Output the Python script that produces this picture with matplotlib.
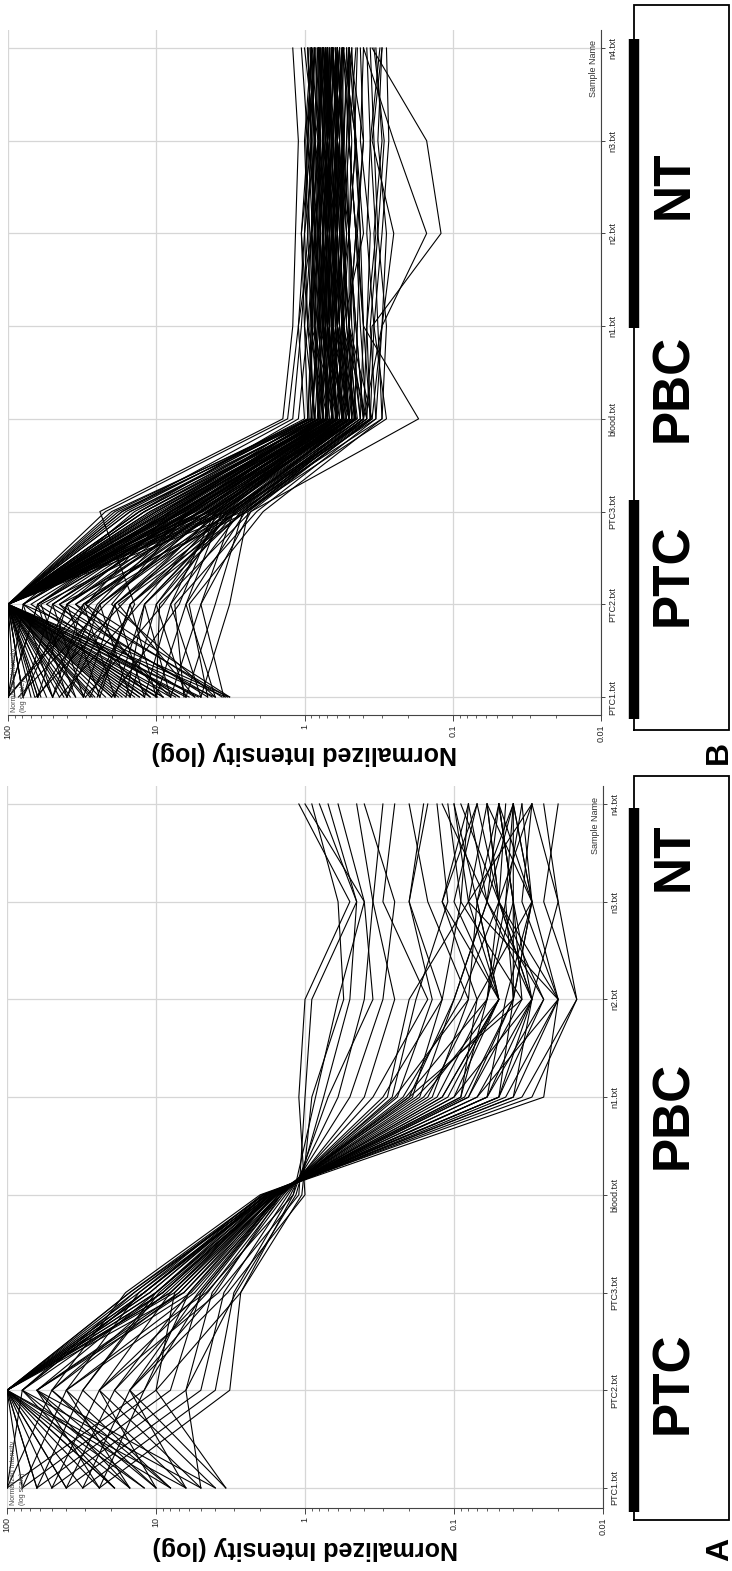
import numpy as np
import matplotlib
matplotlib.use('Agg')
import matplotlib.pyplot as plt
from matplotlib.ticker import LogLocator, NullFormatter

plt.rcParams['font.family'] = ['Liberation Sans', 'DejaVu Sans']

W, H = 732, 1571

samples = ['PTC1.txt', 'PTC2.txt', 'PTC3.txt', 'blood.txt', 'n1.txt', 'n2.txt', 'n3.txt', 'n4.txt']
group_names = ['PTC', 'PBC', 'NT']
intensity_ticks = [100, 10, 1, 0.1, 0.01]
intensity_labels = ['100', '10', '1', '0.1', '0.01']

# normalized intensity of each gene, one row per gene, columns follow `samples`
profiles_a = [
    [100, 100, 12, 1.9, 0.04, 0.02, 0.05, 0.03],
    [79, 100, 14, 1.8, 0.06, 0.03, 0.04, 0.05],
    [63, 100, 11, 1.85, 0.05, 0.025, 0.06, 0.04],
    [50, 100, 9, 1.7, 0.08, 0.04, 0.03, 0.06],
    [40, 100, 15, 1.75, 0.07, 0.02, 0.08, 0.03],
    [31, 100, 10, 1.6, 0.12, 0.05, 0.1, 0.07],
    [24, 100, 8, 1.65, 0.1, 0.03, 0.05, 0.09],
    [19, 79, 12, 1.7, 0.09, 0.06, 0.04, 0.05],
    [15, 63, 6.5, 1.6, 0.15, 0.07, 0.12, 0.08],
    [10, 50, 7, 1.55, 0.2, 0.1, 0.06, 0.12],
    [8, 40, 5.5, 1.5, 0.25, 0.08, 0.15, 0.2],
    [6.3, 31, 9.5, 1.6, 0.18, 0.04, 0.03, 0.04],
    [5, 24, 5, 1.45, 0.3, 0.12, 0.2, 0.15],
    [4, 19, 4.5, 1.4, 0.35, 0.15, 0.3, 0.25],
    [3.4, 15, 4, 1.45, 0.28, 0.2, 0.08, 0.1],
    [100, 12, 6, 1.5, 0.22, 0.09, 0.05, 0.06],
    [79, 10, 7.5, 1.55, 0.16, 0.05, 0.07, 0.04],
    [63, 8, 5, 1.5, 0.2, 0.035, 0.04, 0.05],
    [50, 6.3, 4.2, 1.35, 0.4, 0.25, 0.35, 0.3],
    [40, 5, 3.5, 1.3, 0.5, 0.3, 0.25, 0.4],
    [31, 4, 3, 1.25, 0.6, 0.4, 0.35, 0.45],
    [24, 3.2, 2.7, 1.2, 0.7, 0.35, 0.4, 0.6],
    [19, 100, 13, 1.7, 0.06, 0.045, 0.03, 0.05],
    [15, 100, 11, 1.8, 0.045, 0.02, 0.03, 0.035],
    [12, 79, 14, 1.9, 0.035, 0.015, 0.025, 0.02],
    [10, 63, 10, 1.75, 0.07, 0.03, 0.02, 0.03],
    [8, 50, 8.5, 1.65, 0.11, 0.05, 0.08, 0.06],
    [6.3, 100, 12, 1.8, 0.05, 0.03, 0.05, 0.045],
    [5, 79, 9, 1.7, 0.085, 0.04, 0.045, 0.04],
    [4, 63, 7, 1.6, 0.13, 0.06, 0.05, 0.07],
    [100, 50, 16, 2.0, 0.03, 0.015, 0.02, 0.025],
    [79, 40, 13, 1.95, 0.025, 0.02, 0.035, 0.03],
    [63, 31, 10, 1.85, 0.04, 0.03, 0.06, 0.05],
    [50, 24, 8, 1.7, 0.09, 0.07, 0.03, 0.04],
    [40, 19, 6, 1.6, 0.14, 0.08, 0.07, 0.1],
    [31, 15, 5.2, 1.5, 0.19, 0.12, 0.09, 0.08],
    [24, 12, 4.8, 1.45, 0.26, 0.18, 0.11, 0.13],
    [19, 100, 9, 1.6, 0.12, 0.05, 0.07, 0.05],
    [100, 100, 15, 1.9, 0.05, 0.04, 0.04, 0.04],
    [100, 79, 12, 1.8, 0.06, 0.025, 0.05, 0.06],
    [63, 100, 8, 1.55, 0.17, 0.1, 0.06, 0.08],
    [40, 100, 6.5, 1.5, 0.21, 0.06, 0.045, 0.035],
    [24, 63, 5.8, 1.45, 0.24, 0.14, 0.2, 0.16],
    [15, 40, 4.6, 1.2, 0.85, 0.6, 0.4, 1.0],
    [10, 24, 3.8, 1.1, 1.0, 0.9, 0.45, 0.8],
    [6.3, 15, 3.3, 1.0, 1.1, 1.0, 0.5, 1.1],
    [3.4, 10, 2.7, 1.05, 0.9, 0.55, 0.6, 0.9],
    [5, 6.3, 2.9, 1.15, 0.75, 0.5, 0.45, 0.7],
    [8, 100, 10, 1.7, 0.08, 0.035, 0.09, 0.11],
    [12, 100, 7.5, 1.65, 0.1, 0.05, 0.12, 0.07],
]

profiles_b = [
    [100, 100, 20, 0.9, 0.8, 0.75, 0.7, 0.8],
    [79, 100, 15, 0.8, 0.7, 0.8, 0.75, 0.7],
    [63, 100, 12, 0.75, 0.85, 0.7, 0.8, 0.9],
    [50, 100, 10, 0.7, 0.75, 0.65, 0.6, 0.75],
    [40, 100, 8, 0.65, 0.6, 0.7, 0.85, 0.7],
    [31, 100, 7, 0.6, 0.7, 0.9, 0.7, 0.65],
    [24, 100, 6, 0.55, 0.65, 0.6, 0.75, 0.8],
    [19, 100, 5, 0.5, 0.8, 0.75, 0.65, 0.7],
    [15, 100, 4.5, 0.45, 0.55, 0.5, 0.6, 0.55],
    [12, 100, 4, 0.6, 0.9, 0.85, 0.9, 0.95],
    [10, 100, 3.5, 0.55, 0.7, 0.65, 0.7, 0.6],
    [8, 100, 9, 0.7, 0.95, 1.0, 0.85, 0.9],
    [6.3, 100, 11, 0.8, 0.9, 0.8, 0.95, 0.85],
    [5, 100, 13, 0.85, 1.0, 0.9, 0.8, 0.75],
    [4, 100, 7.5, 0.75, 0.8, 0.85, 0.75, 0.8],
    [3.2, 79, 6.5, 0.7, 0.65, 0.75, 0.7, 0.7],
    [100, 63, 5.5, 0.65, 0.75, 0.7, 0.65, 0.75],
    [79, 50, 5, 0.6, 0.7, 0.6, 0.55, 0.65],
    [63, 40, 4.2, 0.55, 0.6, 0.55, 0.65, 0.6],
    [50, 31, 3.8, 0.5, 0.55, 0.65, 0.6, 0.55],
    [40, 24, 3.2, 0.45, 0.5, 0.45, 0.5, 0.5],
    [31, 19, 2.8, 0.4, 0.45, 0.5, 0.55, 0.6],
    [24, 15, 2.5, 0.38, 0.55, 0.4, 0.45, 0.55],
    [19, 12, 3, 0.5, 0.6, 0.7, 0.6, 0.65],
    [15, 10, 3.4, 0.55, 0.7, 0.6, 0.7, 0.7],
    [12, 8, 4, 0.65, 0.8, 0.75, 0.8, 0.75],
    [10, 6.3, 3.6, 0.6, 0.75, 0.8, 0.7, 0.8],
    [8, 5, 3, 0.5, 0.65, 0.55, 0.6, 0.65],
    [6.3, 4, 2.6, 0.45, 0.6, 0.65, 0.55, 0.6],
    [5, 3.2, 2.4, 0.4, 0.5, 0.55, 0.5, 0.55],
    [4, 20, 6, 0.7, 0.85, 0.8, 0.85, 0.9],
    [3.2, 30, 8, 0.75, 0.9, 0.95, 0.9, 0.85],
    [100, 100, 18, 0.85, 0.95, 0.85, 0.9, 0.95],
    [100, 100, 16, 1.0, 1.1, 0.9, 0.85, 1.0],
    [100, 79, 14, 0.95, 1.0, 1.05, 0.95, 0.9],
    [79, 100, 10, 0.8, 0.85, 0.9, 0.8, 0.85],
    [63, 100, 9, 0.75, 0.8, 0.75, 0.85, 0.8],
    [50, 79, 8.5, 0.7, 0.75, 0.7, 0.75, 0.75],
    [40, 63, 7, 0.65, 0.7, 0.75, 0.7, 0.65],
    [31, 50, 6, 0.6, 0.65, 0.7, 0.65, 0.7],
    [24, 40, 5.2, 0.55, 0.6, 0.65, 0.7, 0.65],
    [19, 31, 4.6, 0.5, 0.55, 0.6, 0.6, 0.6],
    [15, 24, 4.1, 0.48, 0.5, 0.55, 0.55, 0.5],
    [12, 19, 3.7, 0.45, 0.6, 0.5, 0.45, 0.55],
    [10, 15, 3.3, 0.42, 0.5, 0.45, 0.5, 0.45],
    [8, 12, 3.1, 0.4, 0.45, 0.5, 0.45, 0.5],
    [6.3, 10, 2.9, 0.38, 0.42, 0.45, 0.5, 0.5],
    [5, 8, 2.7, 0.36, 0.4, 0.42, 0.45, 0.48],
    [4, 6.3, 2.5, 0.35, 0.5, 0.5, 0.55, 0.55],
    [3.5, 5, 2.3, 0.17, 0.4, 0.45, 0.4, 0.5],
    [70, 100, 12, 0.78, 0.72, 0.68, 0.72, 0.78],
    [55, 100, 11, 0.72, 0.68, 0.72, 0.68, 0.72],
    [45, 100, 9.5, 0.68, 0.74, 0.78, 0.74, 0.7],
    [35, 100, 8, 0.62, 0.66, 0.62, 0.66, 0.68],
    [28, 100, 7.2, 0.58, 0.62, 0.66, 0.62, 0.64],
    [22, 100, 6.4, 0.56, 0.64, 0.6, 0.64, 0.6],
    [17, 100, 5.8, 0.52, 0.58, 0.62, 0.58, 0.62],
    [13, 100, 5.4, 0.5, 0.62, 0.58, 0.62, 0.58],
    [11, 100, 4.8, 0.48, 0.56, 0.52, 0.6, 0.56],
    [9, 100, 4.4, 0.46, 0.52, 0.56, 0.54, 0.52],
    [7, 70, 6.8, 0.6, 0.68, 0.64, 0.7, 0.66],
    [5.5, 55, 6.2, 0.58, 0.74, 0.7, 0.66, 0.72],
    [4.5, 45, 5.6, 0.54, 0.66, 0.72, 0.68, 0.66],
    [3.6, 35, 5, 0.52, 0.7, 0.66, 0.72, 0.7],
    [100, 28, 4.6, 0.5, 0.64, 0.68, 0.64, 0.68],
    [85, 22, 4.3, 0.5, 0.58, 0.64, 0.6, 0.64],
    [65, 17, 3.9, 0.46, 0.54, 0.58, 0.56, 0.6],
    [45, 13, 3.6, 0.44, 0.52, 0.54, 0.58, 0.54],
    [30, 9, 3.2, 0.42, 0.48, 0.5, 0.52, 0.5],
    [20, 7, 3.9, 0.5, 0.56, 0.6, 0.58, 0.62],
    [14, 100, 15, 0.9, 0.82, 0.78, 0.82, 0.76],
    [9, 100, 13, 0.85, 0.78, 0.82, 0.78, 0.82],
    [6, 100, 17, 0.92, 0.88, 0.84, 0.88, 0.86],
    [100, 100, 10.5, 0.82, 0.76, 0.72, 0.76, 0.72],
    [90, 100, 9, 0.76, 0.72, 0.76, 0.7, 0.74],
    [60, 100, 7.8, 0.7, 0.78, 0.74, 0.78, 0.76],
    [38, 100, 6.8, 0.64, 0.7, 0.68, 0.74, 0.72],
    [26, 100, 5.6, 0.6, 0.74, 0.7, 0.66, 0.7],
    [16, 100, 2.6, 0.4, 0.3, 0.25, 0.35, 0.3],
    [11, 45, 2.4, 0.35, 0.3, 0.15, 0.25, 0.4],
    [8, 35, 3.0, 0.38, 0.35, 0.12, 0.15, 0.35],
    [100, 100, 19, 0.95, 0.9, 0.88, 0.95, 0.9],
    [100, 100, 22, 1.3, 1.1, 1.0, 0.95, 1.05],
    [79, 100, 17, 1.2, 1.05, 0.95, 1.0, 0.9],
    [50, 100, 13, 1.1, 0.95, 1.05, 0.9, 0.95],
    [30, 100, 9, 0.95, 0.88, 0.92, 0.98, 0.88],
    [20, 100, 7.5, 0.88, 0.82, 0.9, 0.86, 0.92],
    [12, 79, 6.6, 0.8, 0.76, 0.84, 0.8, 0.78],
    [7, 63, 5.8, 0.72, 0.7, 0.66, 0.74, 0.8],
    [4.2, 50, 5.1, 0.66, 0.6, 0.64, 0.6, 0.66],
    [3.3, 40, 4.5, 0.6, 0.56, 0.52, 0.56, 0.6],
    [100, 31, 4, 0.55, 0.5, 0.56, 0.52, 0.48],
    [63, 24, 3.6, 0.5, 0.46, 0.5, 0.48, 0.52],
    [40, 19, 3.2, 0.46, 0.44, 0.42, 0.46, 0.44],
    [25, 15, 2.9, 0.42, 0.4, 0.44, 0.4, 0.42],
    [16, 12, 2.6, 0.4, 0.38, 0.36, 0.42, 0.4],
    [10, 9.5, 2.3, 0.36, 0.34, 0.38, 0.36, 0.38],
    [6.5, 7.5, 2.1, 0.33, 0.36, 0.32, 0.34, 0.36],
    [4.5, 6, 1.9, 0.3, 0.32, 0.34, 0.3, 0.33],
    [3.4, 100, 12, 0.86, 0.92, 0.86, 0.92, 0.86],
    [5.2, 100, 10, 0.8, 0.86, 0.82, 0.86, 0.82],
    [7.4, 100, 8.6, 0.74, 0.8, 0.78, 0.8, 0.8],
    [9.8, 100, 7.4, 0.68, 0.76, 0.74, 0.7, 0.76],
    [13, 100, 6.4, 0.64, 0.72, 0.7, 0.68, 0.74],
    [18, 100, 5.6, 0.6, 0.68, 0.72, 0.7, 0.68],
    [27, 100, 4.9, 0.56, 0.66, 0.62, 0.66, 0.64],
    [42, 100, 4.3, 0.53, 0.6, 0.64, 0.6, 0.62],
    [66, 100, 3.8, 0.5, 0.58, 0.6, 0.62, 0.58],
    [100, 100, 3.3, 0.47, 0.55, 0.57, 0.55, 0.6],
    [100, 63, 8.2, 0.72, 0.64, 0.6, 0.64, 0.6],
    [79, 40, 7, 0.66, 0.6, 0.56, 0.6, 0.56],
    [50, 25, 6, 0.62, 0.54, 0.58, 0.54, 0.58],
    [28, 14, 24, 1.4, 1.2, 1.15, 1.1, 1.2],
    [20, 100, 3.1, 0.33, 0.3, 0.28, 0.32, 0.3],
    [9, 30, 2.8, 0.3, 0.28, 0.32, 0.29, 0.34],
    [5.5, 18, 2.5, 0.28, 0.34, 0.3, 0.27, 0.28],
    [35, 60, 3.4, 0.36, 0.38, 0.33, 0.36, 0.31],
]

# thick bars on the group strip, in sample-index units
bars_a = [(-0.25, 6.96)]
bars_b = [(-0.24, 2.12), (3.98, 7.1)]


def px_rect(left, top, right, bottom):
    return [left / W, 1 - bottom / H, (right - left) / W, (bottom - top) / H]


def draw_panel(fig, rect, profiles, ylim):
    ax = fig.add_axes(rect)
    pos = np.arange(len(samples))
    for row in profiles:
        ax.plot(row, pos, color='black', lw=0.8)

    ax.set_xscale('log')
    ax.set_xlim(100, 0.01)
    ax.set_ylim(*ylim)
    ax.set_xticks(intensity_ticks)
    ax.set_xticklabels(intensity_labels, rotation=90, fontsize=6.5, color='#222222')
    ax.xaxis.set_minor_locator(LogLocator(base=10, subs=np.arange(2, 10)))
    ax.xaxis.set_minor_formatter(NullFormatter())
    ax.tick_params(axis='x', which='major', length=4.5, width=0.7, color='#444444', pad=2)
    ax.tick_params(axis='x', which='minor', length=2.5, width=0.6, color='#444444')

    ax.yaxis.tick_right()
    ax.set_yticks(pos)
    ax.set_yticklabels(samples, rotation=90, va='center', fontsize=6.5, color='#222222')
    ax.tick_params(axis='y', length=3, width=0.7, color='#444444', pad=2)

    ax.grid(True, which='major', color='#d6d6d6', lw=0.9)
    ax.set_axisbelow(True)
    for s in ['top', 'left']:
        ax.spines[s].set_visible(False)
    for s in ['bottom', 'right']:
        ax.spines[s].set_color('#444444')
        ax.spines[s].set_linewidth(0.8)

    ax.text(0.5, -0.056, 'Normalized Intensity (log)', transform=ax.transAxes,
            rotation=180, ha='center', va='center', fontsize=18, fontweight='bold')
    ax.text(0.005, 0.004, 'Normalized Intensity\n(log scale)', transform=ax.transAxes,
            rotation=90, ha='left', va='bottom', fontsize=5, color='#444444', linespacing=1.5)
    ax.text(0.988, 0.985, 'Sample Name', transform=ax.transAxes, rotation=90,
            ha='center', va='top', fontsize=6.5, color='#333333')
    return ax


def draw_strip(ax, box_x, box_y, bars):
    trans = ax.get_yaxis_transform()
    x0, x1 = box_x
    y0, y1 = box_y
    ax.plot([x0, x0, x1, x1, x0], [y0, y1, y1, y0, y0], color='black', lw=1.3,
            transform=trans, clip_on=False, solid_joinstyle='miter')
    for lo, hi in bars:
        ax.plot([x0, x0], [lo, hi], color='black', lw=7.5, transform=trans,
                clip_on=False, solid_capstyle='butt')


fig = plt.figure(figsize=(W / 100, H / 100), dpi=100)

ax_b = draw_panel(fig, px_rect(8, 30, 601, 715), profiles_b, (-0.194, 7.194))
ax_a = draw_panel(fig, px_rect(7, 786, 603, 1508), profiles_a, (-0.205, 7.184))

draw_strip(ax_b, ((634 - 8) / 593, (729 - 8) / 593), (-0.356, 7.464), bars_b)
draw_strip(ax_a, ((634 - 7) / 596, (729 - 7) / 596), (-0.327, 7.287), bars_a)

# group names on each strip, figure pixel positions
label_pos_b = [575, 388, 185]
label_pos_a = [1383, 1115, 857]
for name, yb, ya in zip(group_names, label_pos_b, label_pos_a):
    for y in (yb, ya):
        fig.text(674 / W, 1 - y / H, name, rotation=90, ha='center', va='center',
                 fontsize=37, fontweight='bold')

fig.text(719 / W, 1 - 752 / H, 'B', rotation=90, ha='center', va='center',
         fontsize=23, fontweight='bold')
fig.text(720 / W, 1 - 1549 / H, 'A', rotation=90, ha='center', va='center',
         fontsize=23, fontweight='bold')

fig.savefig('out.png', dpi=100)
